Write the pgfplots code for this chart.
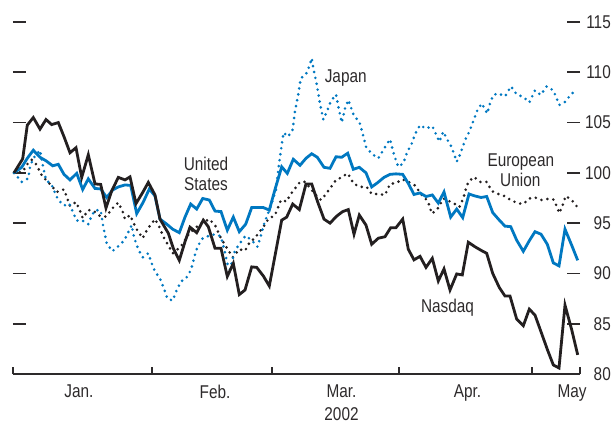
\documentclass[border=0pt]{standalone}
\usepackage{fontspec}
\setmainfont{Liberation Sans}[FakeStretch=0.83]
\usepackage{pgfplots}
\pgfplotsset{compat=1.18}

\definecolor{imfblue}{RGB}{0,120,193}
\definecolor{imfblack}{RGB}{35,31,32}
\definecolor{txtgray}{RGB}{45,42,43}

\begin{document}
\fontsize{18.5bp}{23bp}\selectfont
\begin{tikzpicture}
\path[use as bounding box] (-13bp,-50bp) rectangle (599bp,374bp);
\begin{axis}[
  scale only axis,
  width=567bp, height=352bp,
  xmin=13, xmax=580, ymin=80, ymax=115,
  clip=false,
  axis x line*=bottom, axis y line*=box,
  x axis line style={-, draw=txtgray, line width=1.3bp},
  y axis line style={draw=none},
  tick align=inside,
  xtick pos=bottom,
  xtick={13,152,272,399,532,580},
  xticklabels={},
  xtick style={draw=txtgray, line width=1.3bp, /pgfplots/major tick length=7bp},
  extra x ticks={79,215,341.5,467.5,572},
  extra x tick labels={Jan.,Feb.,{Mar.\\2002},Apr.,May},
  extra x tick style={xtick style={draw=none}, xticklabel style={align=center}},
  xticklabel style={anchor=north, inner sep=0pt, yshift=-11bp, text=txtgray},
  ytick={80,85,...,115},
  ytick pos=both, yticklabel pos=right,
  ytick style={draw=txtgray, line width=1.8bp, /pgfplots/major tick length=13bp},
  yticklabel style={anchor=east, inner sep=0pt, xshift=31bp, text=txtgray},
  /pgf/number format/assume math mode=true,
]

% European Union
\addplot[imfblack, line width=2.9bp, dash pattern=on 0bp off 6bp, line cap=round] coordinates {
(14,100) (22.7,100.1) (26.7,100.8) (31.7,101.3) (36.7,100.8) (40.7,99.9) (46,99.3)
(51.7,98.7) (56.7,98.1) (64,98.35) (67.3,97.45) (70,96.7) (76,97.1) (80,96.25)
(82.7,95.5) (88.3,96.3) (93.3,96.25) (100,95.7) (106,95.65) (112.7,96.5) (118.3,97.05)
(122.7,96.15) (125,95.4) (130,95.8) (136,94.5) (138.3,94.15) (142.7,93.5) (145,94.0)
(149.3,94.65) (155,95.4) (160,94.5) (163.3,93.65) (168.3,92.8) (172.7,92.0) (180.7,92.65)
(189.3,94.0) (195,94.5) (201.7,95.0) (209.3,95.4) (215,94.8) (220,93.7) (224,93.0)
(227.7,92.4) (232.7,91.6) (239.3,92.4) (245,92.25) (250,93.15) (255,93.5) (258.3,94.0)
(263.3,94.6) (268.3,95.4) (275,95.8) (281,97.3) (286.7,97.15) (290,97.8) (294,98.3)
(300,99.1) (305,99.1) (310,98.5) (316,97.8) (321,97.3) (324,97.65) (330,98.45)
(336,99.3) (341.7,99.55) (347.3,99.95) (350,99.6) (353.3,98.95) (360,98.6) (366.7,98.6)
(371.7,97.9) (378.3,97.9) (385,97.8) (390,98.9) (396,99.0) (402.7,99.35) (408.3,99.1)
(415,98.75) (421.7,97.8) (426.7,97.3) (429.3,96.8) (431.7,95.95) (436.7,96.3) (440.7,96.95)
(443.3,97.45) (449,97.2) (455,96.9) (459.3,96.6) (463.3,97.45) (466,98.45) (468.3,99.1)
(474,99.6) (480,99.1) (486.7,99.1) (491.7,98.2) (498.3,97.9) (504.3,97.7) (510.7,97.3)
(517.3,97.0) (523.3,96.9) (529.3,97.45) (535,97.55) (541,97.3) (547.3,97.4) (553.3,97.35)
(556.7,96.7) (559.3,96.0) (562.7,96.8) (565.7,97.7) (571.7,97.3) (577.7,96.55)
};

% Japan
\addplot[imfblue, line width=2.9bp, dash pattern=on 0bp off 6bp, line cap=round] coordinates {
(14,100) (21.7,99.1) (28.3,99.45) (30,100.6) (33.3,101.45) (40,102.25) (42.7,100.8)
(46,99.3) (51.7,98.8) (55,98.0) (58.3,97.3) (64,96.75) (69.3,96.95) (73.3,96.0)
(76.7,95.25) (81.7,95.3) (88.3,94.9) (91.3,95.65) (95,96.3) (100.7,96.25) (103.3,94.65)
(106.7,93.0) (112.3,92.2) (118.3,92.7) (124.3,93.3) (131.7,94.8) (134,93.6) (138.3,92.4)
(142.7,91.6) (148.3,92.0) (151.7,91.0) (155,90.2) (160,89.5) (165,88.2) (167.3,87.5)
(172.7,87.3) (176.7,88.35) (181,89.2) (186,89.5) (191,90.35) (195.7,92.15) (198.3,92.8)
(202.7,93.5) (208,93.7) (215,93.9) (220.7,93.7) (224,92.5) (227.3,91.0) (230,90.4)
(235,92.3) (240,93.0) (245.5,93.75) (251.7,93.3) (257.5,92.65) (261,93.8) (264,94.9)
(267,95.7) (270,96.45) (272.7,97.3) (276,98.3) (278.5,100.5) (281,102.3) (283.5,104.0)
(288,103.6) (292.7,104.3) (295,106.15) (298.3,107.8) (300.7,109.4) (306,109.8) (309.3,110.6)
(311.7,111.4) (313.3,110.4) (316.7,108.8) (318.3,107.9) (320,106.9) (323.3,105.3) (327.3,106.2)
(330.7,107.1) (336,107.8) (338.3,106.6) (341.7,105.0) (345,106.4) (348.3,107.25) (351,106.5)
(354,105.65) (359.3,105.1) (362.7,103.9) (366,102.6) (371.7,101.9) (378.3,101.45) (385,102.55)
(390,103.35) (394,101.8) (398.3,100.6) (403.3,100.95) (407.3,102.1) (411.7,102.9) (415,103.85)
(420,104.75) (426,104.4) (432.3,104.65) (436,103.85) (439.3,103.1) (443.3,104.1) (446.7,103.4)
(450.7,102.75) (454,101.9) (456.7,101.1) (460,101.8) (465,103.25) (469.3,104.1) (475,105.6)
(477.3,106.2) (481.7,106.9) (487.3,105.9) (490,106.9) (493.3,107.75) (498.3,107.9) (505,107.6)
(507.3,108.0) (511,108.6) (516.7,107.8) (523.3,107.55) (529.3,107.0) (535,108.2) (540.7,107.75)
(546.7,108.6) (553.3,108.2) (556.7,107.4) (559.3,106.75) (565,107.05) (571.7,107.9) (577.7,108.15)
};

% United States
\addplot[imfblue, line width=2.8bp] coordinates {
(14,100) (21.7,100.55) (27.3,101.45) (33.3,102.25) (40,101.55) (46,101.2) (52.7,100.7)
(58.3,100.85) (64,99.85) (70,99.3) (76.7,99.95) (82.7,98.35) (88.3,99.4) (95,98.45)
(100.7,98.4) (106.7,97.55) (112.7,98.3) (118.3,98.6) (125,98.8) (130.7,98.75) (136.7,95.95)
(143.3,97.1) (149.3,98.4) (155,97.7) (160,95.4) (166.7,94.9) (172.7,94.4) (179.3,94.05)
(185,95.6) (190.7,96.9) (196.7,96.4) (202.7,97.45) (209.3,97.3) (215,96.2) (221,96.15)
(227.3,94.3) (233.3,95.6) (239.3,94.15) (245.7,94.9) (251.7,96.55) (257.7,96.55) (263.3,96.55)
(269.3,96.3) (275,98.35) (281.7,100.6) (287.3,99.95) (293.3,101.35) (300,100.75) (306,101.45)
(311.7,101.9) (317.3,101.55) (324,100.55) (330,100.45) (336,101.6) (341.7,101.55) (347.7,101.95)
(353.3,100.35) (359.3,100.55) (366,100.0) (371.7,98.6) (377.3,99.0) (384,99.55) (390,99.85)
(396,99.9) (402.7,99.85) (408.3,98.95) (414,97.85) (420,98.0) (426,97.65) (432.3,97.8)
(438.3,97.0) (444,98.1) (450.7,95.6) (456.7,96.4) (462.7,95.55) (469,97.9) (475,97.7)
(481,97.55) (486.7,97.65) (492.7,96.05) (499.3,95.3) (505,94.7) (510.7,94.65) (516.7,93.3)
(523.3,92.2) (529.3,93.25) (535,94.15) (541,93.9) (547.3,92.9) (553.3,91.05) (559,90.75)
(565,94.4) (571.7,92.8) (577.7,91.3)
};

% Nasdaq
\addplot[imfblack, line width=2.8bp] coordinates {
(14,100) (22.7,101.4) (27.3,104.75) (33.3,105.5) (40,104.35) (46,105.3) (51.7,104.8)
(58.3,105.0) (64,103.6) (70,102.0) (76,102.5) (81.7,99.55) (88.3,101.8) (95,98.9)
(100.7,98.85) (106,96.5) (111.7,98.2) (118.3,99.55) (125,99.3) (130,99.6) (136,96.95)
(142.7,98.05) (148.3,99.05) (155,97.8) (160,95.4) (168.3,94.0) (173.3,92.5) (179.3,91.3)
(185,93.15) (190,94.6) (196.7,94.05) (203.3,95.3) (208.3,94.65) (215,92.5) (221,92.5)
(227.3,89.7) (233.3,91.0) (239.3,87.9) (245,88.35) (251.7,90.65) (256.7,90.6) (263.3,89.75)
(269.3,88.75) (281.7,95.3) (286.7,95.6) (292.7,96.9) (299.3,96.35) (306,98.9) (311.7,98.9)
(317.7,97.1) (324,95.4) (330,95.0) (336.7,95.7) (342.7,96.15) (348.3,96.35) (354,93.9)
(359.3,95.8) (366,94.8) (371.7,92.9) (378.3,93.5) (385,93.65) (390.7,94.55) (396,94.55)
(402.7,95.4) (408.3,92.4) (414,91.35) (420,91.7) (426,90.6) (432.3,91.5) (438.3,89.25)
(444,90.45) (450,88.35) (456.7,89.95) (462.3,89.85) (468.3,93.1) (475,92.65) (481,92.3)
(486.7,92.0) (492.7,90.0) (499.3,88.6) (505,87.75) (510,87.75) (516.7,85.45) (523.3,84.8)
(529.3,86.45) (535,85.85) (541,84.2) (547.3,82.45) (553.3,80.9) (559,80.6) (565,86.85)
(571.7,84.4) (577.7,81.9)
};

\node[anchor=base, text=txtgray] at (axis cs:206,100.28) {United};
\node[anchor=base, text=txtgray] at (axis cs:206,98.23) {States};
\node[anchor=base, text=txtgray] at (axis cs:345.7,109.03) {Japan};
\node[anchor=base, text=txtgray] at (axis cs:520.8,100.68) {European};
\node[anchor=base, text=txtgray] at (axis cs:520.3,98.62) {Union};
\node[anchor=base, text=txtgray] at (axis cs:447.5,86.1) {Nasdaq};
\end{axis}
\end{tikzpicture}
\end{document}
